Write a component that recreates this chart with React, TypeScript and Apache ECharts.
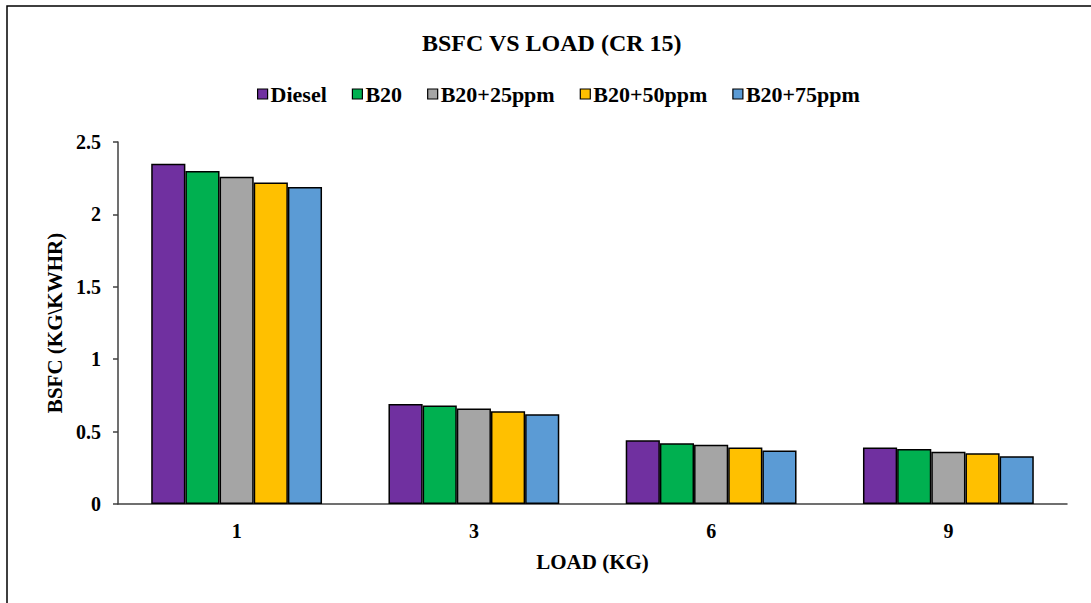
import React, { useEffect, useRef } from "react";
import * as echarts from "echarts";

const categories = ["1", "3", "6", "9"];
const seriesNames = ["Diesel", "B20", "B20+25ppm", "B20+50ppm", "B20+75ppm"];
const diesel = [2.35, 0.69, 0.44, 0.39];
const b20 = [2.3, 0.68, 0.42, 0.38];
const b20p25 = [2.26, 0.66, 0.41, 0.36];
const b20p50 = [2.22, 0.64, 0.39, 0.35];
const b20p75 = [2.19, 0.62, 0.37, 0.33];
const colors = ["#7030A0", "#00B050", "#A5A5A5", "#FFC000", "#5B9BD5"];
const yTicks = { min: 0, max: 2.5, interval: 0.5 };

const FONT = "'Liberation Serif', 'Times New Roman', serif";

export default function App() {
  const ref = useRef<HTMLDivElement>(null);
  useEffect(() => {
    if (!ref.current) return;
    const chart = echarts.init(ref.current, undefined, { renderer: "svg" });
    const values = [diesel, b20, b20p25, b20p50, b20p75];
    chart.setOption({
      animation: false,
      backgroundColor: "#ffffff",
      title: {
        text: "BSFC VS LOAD (CR 15)",
        left: 417,
        top: 26,
        textStyle: { fontFamily: FONT, fontWeight: "bold", fontSize: 24, color: "#000" },
      },
      legend: {
        top: 78,
        left: 252,
        icon: "rect",
        itemWidth: 10,
        itemHeight: 10,
        itemGap: 25,
        textStyle: { fontFamily: FONT, fontWeight: "bold", fontSize: 22, color: "#000", padding: [0, 0, 0, -2] },
        itemStyle: { borderColor: "#000", borderWidth: 1.2 },
        data: seriesNames,
      },
      graphic: [
        {
          type: "polyline",
          shape: { points: [[7, 603], [7, 6], [1091, 6]] },
          style: { stroke: "#000", lineWidth: 1.5, fill: null },
          silent: true,
        },
      ],
      grid: { left: 118, right: 24, top: 142, bottom: 99, containLabel: false },
      xAxis: {
        type: "category",
        data: categories,
        name: "LOAD (KG)",
        nameLocation: "middle",
        nameGap: 47,
        nameTextStyle: { fontFamily: FONT, fontWeight: "bold", fontSize: 21, color: "#000" },
        axisLine: { show: true, lineStyle: { color: "#404040", width: 1.5 } },
        axisTick: { show: false },
        axisLabel: { fontFamily: FONT, fontWeight: "bold", fontSize: 20, color: "#000", margin: 17 },
        splitLine: { show: false },
      },
      yAxis: {
        type: "value",
        min: yTicks.min,
        max: yTicks.max,
        interval: yTicks.interval,
        name: "BSFC (KG\\KWHR)",
        nameLocation: "middle",
        nameGap: 52,
        nameTextStyle: { fontFamily: FONT, fontWeight: "bold", fontSize: 21, color: "#000" },
        axisLine: { show: true, lineStyle: { color: "#404040", width: 1.5 } },
        axisTick: { show: true, length: 5, lineStyle: { color: "#404040", width: 1.5 } },
        axisLabel: { fontFamily: FONT, fontWeight: "bold", fontSize: 20, color: "#000", margin: 17 },
        splitLine: { show: false },
      },
      series: seriesNames.map((name, i) => ({
        name,
        type: "bar",
        data: values[i],
        barGap: "0%",
        barCategoryGap: "28%",
        itemStyle: { color: colors[i], borderColor: "#000", borderWidth: 1.5 },
      })),
    });
    return () => chart.dispose();
  }, []);
  return (
    <div
      ref={ref}
      style={{ position: "fixed", left: 0, top: 0, width: 1091, height: 603 }}
    />
  );
}
